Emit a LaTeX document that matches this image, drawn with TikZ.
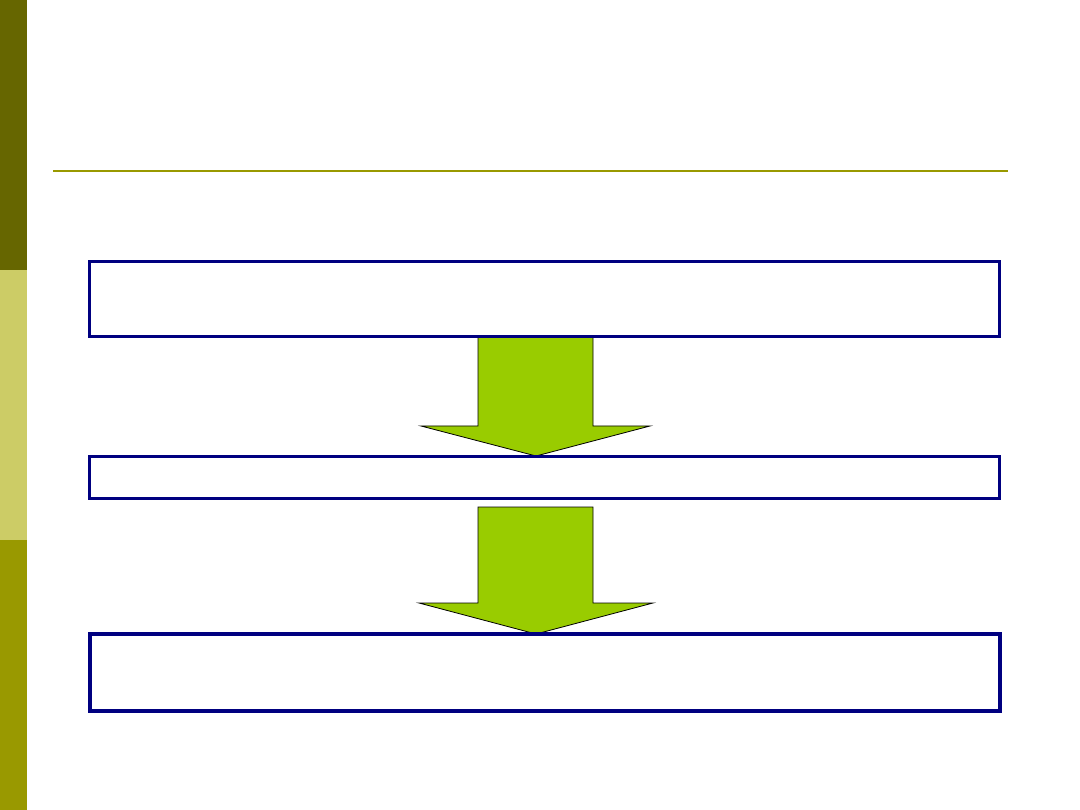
\documentclass[tikz,border=0pt]{standalone}
\begin{document}
\begin{tikzpicture}[x=1pt,y=-1pt,
  stagebox/.style={draw=boxnavy,line width=3pt,fill=white,outer sep=0pt,inner sep=0pt,anchor=north west},
  bigarrow/.style={draw=black,line width=0.8pt,fill=arrowgreen,line join=miter}]
\definecolor{boxnavy}{HTML}{000080}
\definecolor{arrowgreen}{HTML}{99CC00}
\definecolor{bartop}{HTML}{666600}
\definecolor{barmid}{HTML}{CCCC66}
\definecolor{barbot}{HTML}{999900}
\definecolor{rulecol}{HTML}{999900}
\useasboundingbox (0,0) rectangle (1080,810);
\fill[white] (0,0) rectangle (1080,810);
% side bar
\fill[bartop] (0,0) rectangle (27,270);
\fill[barmid] (0,270) rectangle (27,540);
\fill[barbot] (0,540) rectangle (27,810);
% title rule
\coordinate (ruleL) at (53,171);
\coordinate (ruleR) at (1008,171);
\draw[rulecol,line width=2pt] (ruleL) -- (ruleR);
% arrows
\draw[bigarrow] (478,336) -- (593,336) -- (593,426) -- (650,426) -- (536,456) -- (421,426) -- (478,426) -- cycle;
\draw[bigarrow] (478,507) -- (593,507) -- (593,603) -- (653,603) -- (536,634) -- (419,603) -- (478,603) -- cycle;
% boxes
\node[stagebox,minimum width=910pt,minimum height=75pt] (b1) at (89.5,261.5) {};
\node[stagebox,minimum width=910pt,minimum height=42pt] (b2) at (89.5,456.5) {};
\node[stagebox,line width=4pt,minimum width=910pt,minimum height=77pt] (b3) at (89.5,634) {};
\end{tikzpicture}
\end{document}
